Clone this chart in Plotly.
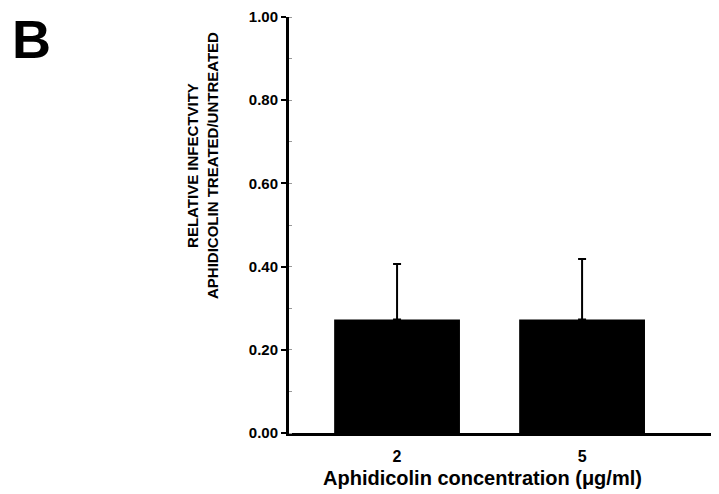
import plotly.graph_objects as go

categories = ["2", "5"]
values = [0.273, 0.273]
errors_up = [0.133, 0.145]
y_ticks = [0.0, 0.2, 0.4, 0.6, 0.8, 1.0]
y_ticklabels = ["0.00", "0.20", "0.40", "0.60", "0.80", "1.00"]

FONT = "Liberation Sans, Arial, sans-serif"

# page body has an 8px default margin; plot area is 430 x 416 px
PL, PT, PW, PH = 289, 17, 430, 416


def px(x):
    return (x - PL) / PW


def py(y):
    return 1 - (y - PT) / PH


fig = go.Figure()
fig.add_trace(go.Bar(
    x=categories, y=values, width=0.68,
    marker=dict(color="black", line=dict(width=0)),
    error_y=dict(type="data", array=errors_up, arrayminus=[0, 0], symmetric=False,
                 color="black", thickness=2, width=4),
))

fig.update_layout(
    width=711, height=486,
    margin=dict(l=281, r=0, t=9, b=61),
    paper_bgcolor="white", plot_bgcolor="white",
    showlegend=False,
    font=dict(family=FONT, color="black"),
    xaxis=dict(type="category", range=[-0.584, 1.74], showline=True, linecolor="black",
               linewidth=3, ticks="", tickfont=dict(size=16, family=FONT),
               ticklabelstandoff=7, showgrid=False, zeroline=False),
    yaxis=dict(range=[0, 1.0], tickvals=y_ticks, ticktext=["<b>%s</b>" % t for t in y_ticklabels],
               showline=True, linecolor="black", linewidth=3, ticks="outside", ticklen=5,
               tickwidth=1.5, tickcolor="black", tickfont=dict(size=15, family=FONT),
               showgrid=False, zeroline=False,
               minor=dict(ticks="inside", ticklen=3, dtick=0.1, tickcolor="#999", tickwidth=1)),
)
fig.update_xaxes(tickvals=categories, ticktext=["<b>%s</b>" % c for c in categories])

fig.add_annotation(text="<b>Aphidicolin concentration (μg/ml)</b>",
                   xref="paper", yref="paper", x=px(482), y=py(478),
                   xanchor="center", yanchor="middle", showarrow=False,
                   font=dict(size=20, family=FONT, color="black"))
fig.add_annotation(text="<b>RELATIVE INFECTVITY<br>APHIDICOLIN TREATED/UNTREATED</b>",
                   xref="paper", yref="paper", x=px(203), y=py(166),
                   xanchor="center", yanchor="middle", textangle=-90, showarrow=False,
                   font=dict(size=15, family=FONT, color="black"))
fig.add_annotation(text="<b>B</b>", xref="paper", yref="paper",
                   x=px(11), y=py(8), xanchor="left", yanchor="top", borderpad=0,
                   showarrow=False, font=dict(size=54, family=FONT, color="black"))

fig.write_html("out.html")
